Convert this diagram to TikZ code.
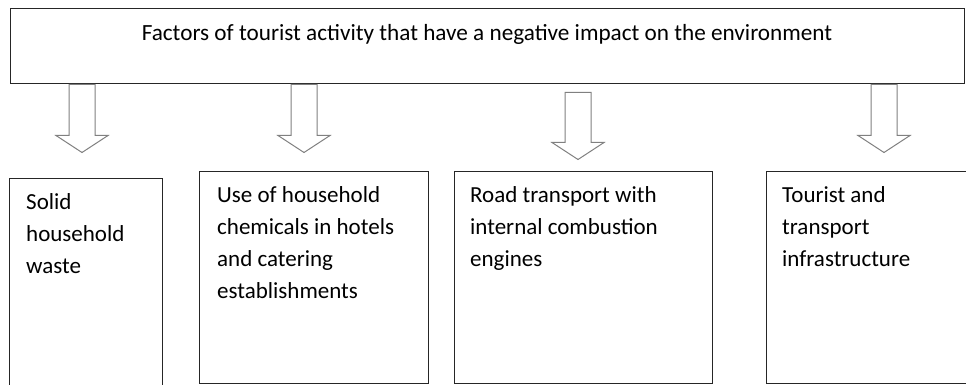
\documentclass[tikz,border=0pt]{standalone}
\usepackage{fontspec}
\setmainfont{Carlito}
\usetikzlibrary{positioning}

\tikzset{
  factorbox/.style={draw=black!85, line width=1pt, inner sep=0pt},
  boxtext/.style={anchor=base west, inner sep=0pt, align=left,
    font=\fontsize{23}{32}\selectfont},
  blockarrow/.style={draw=black!50, line width=1pt, fill=white, line join=miter}
}

\begin{document}
\begin{tikzpicture}[x=1pt, y=1pt]
	\useasboundingbox (0,0) rectangle (966,-385);
	
	% top box
	\node[factorbox, minimum width=954pt, minimum height=75pt] (top) at (487,-46.5) {};
	\node[anchor=base, inner sep=0pt, font=\fontsize{23.2}{27}\selectfont] (title) at (487,-41)
		{Factors of tourist activity that have a negative impact on the environment};
	
	% lower boxes
	\node[factorbox, anchor=north west, minimum width=153pt, minimum height=215pt] (b1) at (9,-178) {};
	\node[factorbox, anchor=north west, minimum width=229pt, minimum height=212pt] (b2) at (199,-171) {};
	\node[factorbox, anchor=north west, minimum width=258pt, minimum height=212pt] (b3) at (454,-171) {};
	\node[factorbox, anchor=north west, minimum width=220pt, minimum height=212pt] (b4) at (766,-171) {};
	
	% base anchor sits on the last line
	\node[boxtext] (t1) at ([shift={(17,-95)}]b1.north west) {Solid\\household\\waste};
	\node[boxtext] (t2) at ([shift={(18,-127)}]b2.north west) {Use of household\\chemicals in hotels\\and catering\\establishments};
	\node[boxtext] (t3) at ([shift={(16,-95)}]b3.north west) {Road transport with\\internal combustion\\engines};
	\node[boxtext] (t4) at ([shift={(16,-95)}]b4.north west) {Tourist and\\transport\\infrastructure};
	
	% block arrows
	\coordinate (a1) at (top.south -| 82,0);
	\coordinate (a2) at (top.south -| 304,0);
	\coordinate (a3) at ([yshift=-8]top.south -| 578,0);
	\coordinate (a4) at (top.south -| 884,0);
	
	\foreach \s/\len in {a1/68, a2/68, a3/67, a4/68}{
		\draw[blockarrow] ([xshift=-13]\s) -- ++(0,-\len+17) -- ++(-13,0)
			-- ([yshift=-\len]\s) -- ++(26,17) -- ++(-13,0) -- ([xshift=13]\s) -- cycle;
	}
\end{tikzpicture}
\end{document}
